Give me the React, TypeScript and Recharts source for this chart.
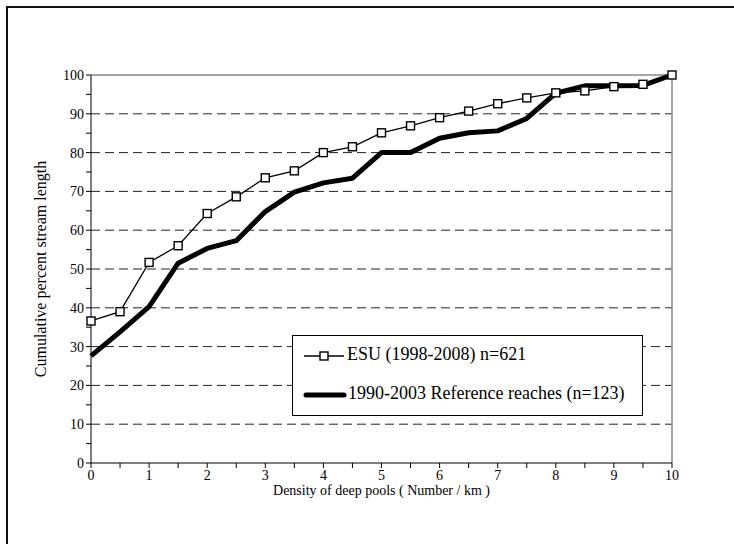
import { LineChart, Line, XAxis, YAxis, ReferenceLine } from 'recharts';

// pool density (number / km), sampled every 0.5
const densities = [0, 0.5, 1, 1.5, 2, 2.5, 3, 3.5, 4, 4.5, 5, 5.5, 6, 6.5, 7, 7.5, 8, 8.5, 9, 9.5, 10];

// cumulative percent of stream length
const esuValues = [
  36.6, 39.0, 51.7, 56.0, 64.3, 68.6, 73.5, 75.3, 80.0, 81.5, 85.1, 86.9, 89.0, 90.7, 92.6, 94.1, 95.4,
  95.9, 97.0, 97.6, 100,
];
const referenceValues = [
  27.6, 33.8, 40.3, 51.5, 55.3, 57.3, 64.8, 69.8, 72.2, 73.4, 80.0, 80.0, 83.7, 85.1, 85.6, 88.8, 95.3,
  97.2, 97.2, 97.3, 100,
];

const xTicks = densities;
const yTicks = [0, 5, 10, 15, 20, 25, 30, 35, 40, 45, 50, 55, 60, 65, 70, 75, 80, 85, 90, 95, 100];
const gridLevels = [10, 20, 30, 40, 50, 60, 70, 80, 90];

const esuLabel = 'ESU (1998-2008) n=621';
const referenceLabel = '1990-2003 Reference reaches (n=123)';

const data = densities.map((d, i) => ({ density: d, esu: esuValues[i], reference: referenceValues[i] }));

const FONT = '"Liberation Serif", "Times New Roman", serif';

function SquareDot(props: any) {
  const { cx, cy } = props;
  if (cx == null || cy == null) return null;
  return <rect x={cx - 4} y={cy - 4} width={8} height={8} fill="#fff" stroke="#000" strokeWidth={1.4} />;
}

function LegendBox() {
  return (
    <div
      style={{
        position: 'absolute',
        left: 292,
        top: 335,
        width: 349,
        height: 79,
        border: '1px solid #000',
        background: '#fff',
        fontFamily: FONT,
        fontSize: 18,
        color: '#000',
      }}
    >
      <svg width={60} height={79} style={{ position: 'absolute', left: 0, top: 0 }}>
        <line x1={11} x2={51} y1={20} y2={20} stroke="#000" strokeWidth={1.4} />
        <rect x={27} y={16} width={8} height={8} fill="#fff" stroke="#000" strokeWidth={1.4} />
        <line x1={13} x2={51} y1={59} y2={59} stroke="#000" strokeWidth={5} strokeLinecap="round" />
      </svg>
      <div style={{ position: 'absolute', left: 54, top: 8, whiteSpace: 'nowrap' }}>{esuLabel}</div>
      <div style={{ position: 'absolute', left: 55, top: 47, whiteSpace: 'nowrap' }}>{referenceLabel}</div>
    </div>
  );
}

export default function App() {
  return (
    <div style={{ position: 'absolute', left: 0, top: 0, width: 734, height: 544, background: '#fff', overflow: 'hidden' }}>
      <div
        style={{
          position: 'absolute',
          left: 6,
          top: 6,
          width: 740,
          height: 550,
          border: '2px solid #111',
        }}
      />
      <LineChart
        width={734}
        height={544}
        data={data}
        margin={{ top: 75, right: 62, bottom: 51, left: 31 }}
        style={{ position: 'absolute', left: 0, top: 0 }}
      >
        {gridLevels.map((g) => (
          <ReferenceLine key={g} y={g} stroke="#222" strokeDasharray="9 5" />
        ))}
        <ReferenceLine y={100} stroke="#888" strokeWidth={1.5} />
        <ReferenceLine x={10} stroke="#888" strokeWidth={1.5} />
        <XAxis
          dataKey="density"
          type="number"
          domain={[0, 10]}
          ticks={xTicks}
          interval={0}
          height={30}
          stroke="#000"
          tickSize={5}
          tickFormatter={(v: number) => (Number.isInteger(v) ? String(v) : '')}
          tick={{ fill: '#000', fontSize: 14, fontFamily: FONT }}
          label={{
            value: 'Density of deep pools ( Number / km )',
            position: 'bottom',
            offset: -8,
            fill: '#000',
            fontSize: 14,
            fontFamily: FONT,
          }}
        />
        <YAxis
          type="number"
          domain={[0, 100]}
          ticks={yTicks}
          interval={0}
          width={60}
          stroke="#000"
          tickSize={5}
          tickFormatter={(v: number) => (v % 10 === 0 ? String(v) : '')}
          tick={{ fill: '#000', fontSize: 14, fontFamily: FONT }}
          label={{
            value: 'Cumulative percent stream length',
            angle: -90,
            position: 'insideLeft',
            offset: 9,
            style: { textAnchor: 'middle' },
            fill: '#000',
            fontSize: 16,
            fontFamily: FONT,
          }}
        />
        <Line
          dataKey="reference"
          stroke="#000"
          strokeWidth={5}
          dot={false}
          isAnimationActive={false}
          strokeLinejoin="round"
        />
        <Line
          dataKey="esu"
          stroke="#000"
          strokeWidth={1.3}
          dot={<SquareDot />}
          isAnimationActive={false}
        />
      </LineChart>
      <LegendBox />
    </div>
  );
}
